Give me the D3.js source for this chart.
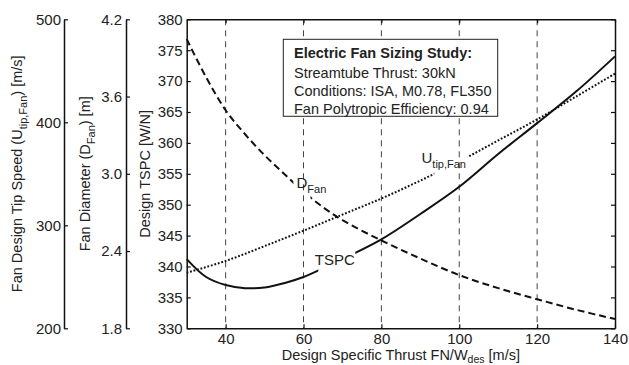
<html>
<head>
<meta charset="utf-8" />
<script src="https://d3js.org/d3.v7.min.js"></script>
<style>
  body { margin: 0; background: #fff; }
  text { font-family: "Liberation Sans", Arial, sans-serif; fill: #222; }
</style>
</head>
<body>
<div id="chart"></div>
<script>
// specific thrust FN/Wdes [m/s]
const thrust = [30, 35, 40, 45, 50, 55, 60, 65, 70, 80, 90, 100, 110, 120, 130, 140];
// design TSPC [W/N]
const tspc = [341.2, 338.3, 337.0, 336.5, 336.6, 337.3, 338.3, 339.7, 341.2, 344.4, 348.5, 352.9, 358.2, 363.2, 368.3, 374.0];
// fan diameter [m]
const dFan = [4.046, 3.749, 3.494, 3.307, 3.144, 3.000, 2.861, 2.741, 2.640, 2.482, 2.342, 2.213, 2.112, 2.026, 1.944, 1.872];
// fan tip speed [m/s]
const uTipX = [30, 40, 50, 60, 70, 80, 90, 100, 110, 120, 130, 140];
const uTip = [254, 265.4, 279.8, 294.8, 310.4, 326, 343.4, 362, 382.4, 402.8, 425, 447.2];

const xTicks = [40, 60, 80, 100, 120, 140];
const gridTicks = [40, 60, 80, 100, 120];
const tspcTicks = [330, 335, 340, 345, 350, 355, 360, 365, 370, 375, 380];
const uTicks = [200, 300, 400, 500];
const dTicks = [1.8, 2.4, 3.0, 3.6, 4.2];
const legendLines = ["Streamtube Thrust: 30kN", "Conditions: ISA, M0.78, FL350", "Fan Polytropic Efficiency: 0.94"];

const W = 629, H = 365;
const pL = 186.7, pR = 615, pT = 19.3, pB = 328.3;

const x = d3.scaleLinear().domain([30, 140]).range([pL, pR]);
const y = d3.scaleLinear().domain([330, 380]).range([pB, pT]);
const yU = d3.scaleLinear().domain([200, 500]).range([pB, pT]);
const yD = d3.scaleLinear().domain([1.8, 4.2]).range([pB, pT]);

const svg = d3.select("#chart").append("svg").attr("width", W).attr("height", H);

// grid
svg.selectAll("line.grid").data(gridTicks).enter().append("line")
  .attr("x1", d => x(d)).attr("x2", d => x(d))
  .attr("y1", pT).attr("y2", pB)
  .attr("stroke", "#444").attr("stroke-width", 1).attr("stroke-dasharray", "6,5");

function styleAxis(g, size) {
  g.select(".domain").attr("stroke", "#111").attr("stroke-width", 1.5);
  g.selectAll(".tick line").attr("stroke", "#111").attr("stroke-width", 1.2);
  g.selectAll(".tick text").style("font-size", size + "px").attr("fill", "#222")
    .style("font-family", '"Liberation Sans", Arial, sans-serif');
}

// main axes
const gL = svg.append("g").attr("transform", `translate(${pL},0)`)
  .call(d3.axisLeft(y).tickValues(tspcTicks).tickSize(-4).tickSizeOuter(0).tickPadding(4));
styleAxis(gL, 15);
const gB = svg.append("g").attr("transform", `translate(0,${pB})`)
  .call(d3.axisBottom(x).tickValues(xTicks).tickSize(-4).tickSizeOuter(0).tickPadding(5));
styleAxis(gB, 15);
const gR = svg.append("g").attr("transform", `translate(${pR},0)`)
  .call(d3.axisRight(y).tickValues(tspcTicks).tickSize(-4).tickSizeOuter(0).tickFormat(""));
styleAxis(gR, 15);
const gT = svg.append("g").attr("transform", `translate(0,${pT})`)
  .call(d3.axisTop(x).tickValues(xTicks).tickSize(-4).tickSizeOuter(0).tickFormat(""));
styleAxis(gT, 15);

// extra axes
const gU = svg.append("g").attr("transform", "translate(64,0)")
  .call(d3.axisLeft(yU).tickValues(uTicks).tickSize(-4).tickSizeOuter(0).tickPadding(3));
styleAxis(gU, 15);
const gD = svg.append("g").attr("transform", "translate(126,0)")
  .call(d3.axisLeft(yD).tickValues(dTicks).tickSize(-4).tickSizeOuter(0).tickPadding(4).tickFormat(d3.format(".1f")));
styleAxis(gD, 15);

// masks leaving gaps for the curve labels
const defs = svg.append("defs");
function gapMask(id, a, b) {
  const m = defs.append("mask").attr("id", id).attr("maskUnits", "userSpaceOnUse")
    .attr("x", 0).attr("y", 0).attr("width", W).attr("height", H);
  m.append("rect").attr("width", W).attr("height", H).attr("fill", "white");
  m.append("rect").attr("x", x(a)).attr("y", 0).attr("width", x(b) - x(a)).attr("height", H).attr("fill", "black");
}
gapMask("mT", 63.8, 73.3);
gapMask("mD", 57.4, 61.8);
gapMask("mU", 93.6, 102.2);

const lineT = d3.line().x((d, i) => x(thrust[i])).y(d => y(d)).curve(d3.curveCatmullRom);
const lineD = d3.line().x((d, i) => x(thrust[i])).y(d => yD(d)).curve(d3.curveCatmullRom);
const lineU = d3.line().x((d, i) => x(uTipX[i])).y(d => yU(d)).curve(d3.curveCatmullRom);

svg.append("path").attr("d", lineT(tspc)).attr("mask", "url(#mT)")
  .attr("fill", "none").attr("stroke", "#111").attr("stroke-width", 2);
svg.append("path").attr("d", lineD(dFan)).attr("mask", "url(#mD)")
  .attr("fill", "none").attr("stroke", "#111").attr("stroke-width", 2).attr("stroke-dasharray", "7,4");
svg.append("path").attr("d", lineU(uTip)).attr("mask", "url(#mU)")
  .attr("fill", "none").attr("stroke", "#111").attr("stroke-width", 2).attr("stroke-dasharray", "1.8,1.8");

// curve labels
svg.append("text").attr("x", x(62.9)).attr("y", y(340.2)).style("font-size", "15px").text("TSPC");
const tD = svg.append("text").attr("x", x(58.2)).attr("y", y(352.7)).style("font-size", "15px");
tD.append("tspan").text("D");
tD.append("tspan").attr("dy", 5).style("font-size", "11px").text("Fan");
const tU = svg.append("text").attr("x", x(90.3)).attr("y", y(356.7)).style("font-size", "15px");
tU.append("tspan").text("U");
tU.append("tspan").attr("dy", 5).style("font-size", "11px").text("tip,Fan");

// legend box
svg.append("rect").attr("x", 283.3).attr("y", 39.3).attr("width", 214.4).attr("height", 77)
  .attr("fill", "#fff").attr("stroke", "#222").attr("stroke-width", 1);
svg.append("text").attr("x", 294).attr("y", 58.3).style("font-size", "14.5px").style("font-weight", "bold")
  .text("Electric Fan Sizing Study:");
svg.selectAll("text.leg").data(legendLines).enter().append("text")
  .attr("class", "leg").attr("x", 294).attr("y", (d, i) => 77.5 + i * 18)
  .style("font-size", "14.5px").text(d => d);

// axis titles
const xl = svg.append("text").attr("x", (pL + pR) / 2).attr("y", 359.5)
  .attr("text-anchor", "middle").style("font-size", "14.5px");
xl.append("tspan").text("Design Specific Thrust FN/W");
xl.append("tspan").attr("dy", 3.5).style("font-size", "10.5px").text("des");
xl.append("tspan").attr("dy", -3.5).text(" [m/s]");

const midY = (pT + pB) / 2;
function yTitle(cx, parts) {
  const t = svg.append("text").attr("transform", `translate(${cx},${midY}) rotate(-90)`)
    .attr("text-anchor", "middle").style("font-size", "14.5px");
  parts.forEach(p => {
    const s = t.append("tspan").text(p[0]);
    if (p[1]) s.attr("dy", p[1]);
    if (p[2]) s.style("font-size", p[2] + "px");
  });
}
yTitle(22, [["Fan Design Tip Speed (U"], ["tip,Fan", 5, 11], [") [m/s]", -5]]);
yTitle(90, [["Fan Diameter (D"], ["Fan", 5, 11], [") [m]", -5]]);
yTitle(150, [["Design TSPC [W/N]"]]);
</script>
</body>
</html>
